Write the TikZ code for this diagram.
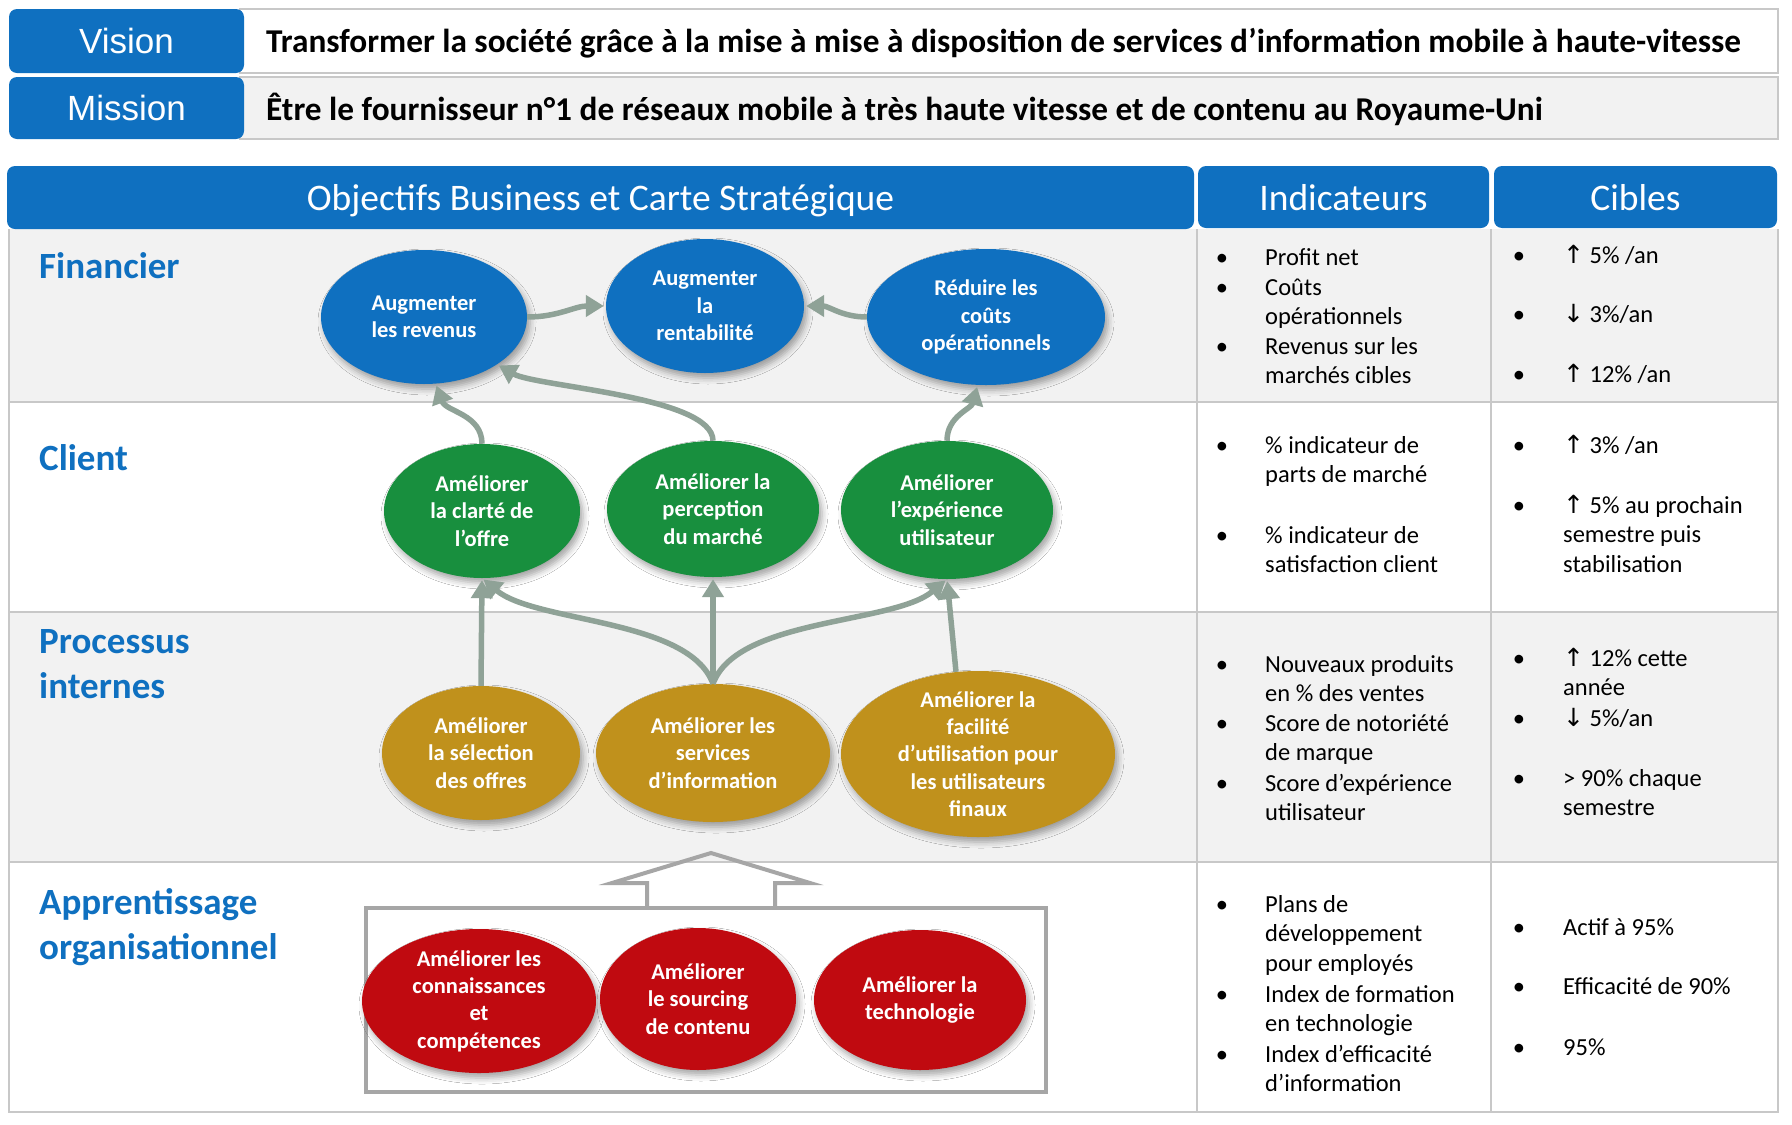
\documentclass[tikz,border=0pt]{standalone}
\usepackage{fontspec}
\setmainfont{Carlito}
\newfontfamily\arialfont{Liberation Sans}
\newfontfamily\arrowfont{DejaVu Sans}
\usetikzlibrary{arrows.meta,shapes.geometric,shadows.blur}
\definecolor{hblue}{RGB}{15,112,192}
\definecolor{egreen}{RGB}{24,143,62}
\definecolor{egold}{RGB}{192,145,28}
\definecolor{ered}{RGB}{192,10,16}
\definecolor{conncol}{RGB}{143,162,151}
\definecolor{rowgrey}{RGB}{242,242,242}
\definecolor{gridcol}{RGB}{200,200,200}
\definecolor{boxgrey}{RGB}{166,166,166}
\newcommand{\uparr}{{\arrowfont\fontsize{25}{25}\selectfont ↑}}
\newcommand{\downarr}{{\arrowfont\fontsize{25}{25}\selectfont ↓}}
\begin{document}
\begin{tikzpicture}[x=1pt,y=-1pt,
  hdr/.style={fill=hblue, rounded corners=8pt, inner sep=0pt, text=white},
  obj/.style={ellipse, inner xsep=0pt, inner ysep=-18pt, text=white, align=center,
     font=\bfseries\fontsize{22.5}{27.3}\selectfont,
     blur shadow={shadow xshift=3pt, shadow yshift=-5pt, shadow blur radius=6pt, shadow opacity=35}},
  fin/.style={obj, fill=hblue},
  cli/.style={obj, fill=egreen},
  proc/.style={obj, fill=egold},
  learn/.style={obj, fill=ered},
  link/.style={draw=conncol, line width=5.5pt, -{Triangle[length=18pt,width=21pt]}, shorten >=2pt},
  rowlbl/.style={anchor=base west, inner sep=0pt, align=left, text=hblue, font=\bfseries\fontsize{37}{45}\selectfont},
  itm/.style={anchor=base west, inner sep=0pt, align=left, font=\fontsize{24.5}{29.7}\selectfont},
  bul/.style={anchor=base, inner sep=0pt, font=\fontsize{24.5}{29.7}\selectfont},
  gridln/.style={draw=gridcol, line width=2pt},
]
\useasboundingbox (0,0) rectangle (1792,1125);
\fill[white] (0,0) rectangle (1792,1125);

% Vision / Mission
\draw[gridln, fill=white] (240,9) rectangle (1778,73);
\draw[gridln, fill=rowgrey] (240,77) rectangle (1778,139);
\node[hdr, minimum width=235pt, minimum height=64pt, font=\arialfont\fontsize{35}{35}\selectfont] (vis) at (126.5,41) {Vision};
\node[hdr, minimum width=235pt, minimum height=62pt, font=\arialfont\fontsize{35}{35}\selectfont] (mis) at (126.5,108) {Mission};
\node[anchor=base west, inner sep=0pt, font=\bfseries\fontsize{33.3}{36}\selectfont] (vistxt) at (266,52) {Transformer la société grâce à la mise à mise à disposition de services d’information mobile à haute-vitesse};
\node[anchor=base west, inner sep=0pt, font=\bfseries\fontsize{33.3}{36}\selectfont] (mistxt) at (266,120) {Être le fournisseur n°1 de réseaux mobile à très haute vitesse et de contenu au Royaume-Uni};

% table
\fill[rowgrey] (9,229) rectangle (1778,402);
\fill[rowgrey] (9,612) rectangle (1778,862);
\draw[gridln] (9,229) -- (9,1112) -- (1778,1112) -- (1778,229);
\draw[gridln] (9,402) -- (1778,402);
\draw[gridln] (9,612) -- (1778,612);
\draw[gridln] (9,862) -- (1778,862);
\draw[gridln] (1197,229) -- (1197,1112);
\draw[gridln] (1491,229) -- (1491,1112);

% headers
\node[hdr, minimum width=1187pt, minimum height=63pt, text depth=0pt, font=\fontsize{37.5}{37.5}\selectfont] (hobj) at (600.5,197.5) {Objectifs Business et Carte Stratégique};
\node[hdr, minimum width=291pt, minimum height=62pt, text depth=0pt, font=\fontsize{37.5}{37.5}\selectfont] (hind) at (1343.5,197) {Indicateurs};
\node[hdr, minimum width=283pt, minimum height=62pt, text depth=0pt, font=\fontsize{37.5}{37.5}\selectfont] (hcib) at (1635.5,197) {Cibles};

% row labels (base = baseline of last line)
\node[rowlbl] (lfin) at (39,278) {Financier};
\node[rowlbl] (lcli) at (39,470) {Client};
\node[rowlbl] (lproc) at (39,698) {Processus\\internes};
\node[rowlbl] (lapp) at (39,959) {Apprentissage\\organisationnel};

% indicators (base = baseline of last line)
\node[bul] (b1a) at (1222,265) {•}; \node[itm] (i1a) at (1265,265) {Profit net};
\node[bul] (b1b) at (1222,295) {•}; \node[itm] (i1b) at (1265,324.7) {Coûts\\opérationnels};
\node[bul] (b1c) at (1222,354) {•}; \node[itm] (i1c) at (1265,383.7) {Revenus sur les\\marchés cibles};
\node[bul] (b2a) at (1222,453) {•}; \node[itm] (i2a) at (1265,482.7) {\% indicateur de\\parts de marché};
\node[bul] (b2b) at (1222,543) {•}; \node[itm] (i2b) at (1265,572.7) {\% indicateur de\\satisfaction client};
\node[bul] (b3a) at (1222,672) {•}; \node[itm] (i3a) at (1265,701.7) {Nouveaux produits\\en \% des ventes};
\node[bul] (b3b) at (1222,731) {•}; \node[itm] (i3b) at (1265,760.7) {Score de notoriété\\de marque};
\node[bul] (b3c) at (1222,791) {•}; \node[itm] (i3c) at (1265,820.7) {Score d’expérience\\utilisateur};
\node[bul] (b4a) at (1222,912) {•}; \node[itm] (i4a) at (1265,971.4) {Plans de\\développement\\pour employés};
\node[bul] (b4b) at (1222,1002) {•}; \node[itm] (i4b) at (1265,1031.7) {Index de formation\\en technologie};
\node[bul] (b4c) at (1222,1062) {•}; \node[itm] (i4c) at (1265,1091.7) {Index d’efficacité\\d’information};

% targets
\node[bul] (d1a) at (1519,263) {•}; \node[itm] (c1a) at (1563,263) {\uparr\ 5\% /an};
\node[bul] (d1b) at (1519,322) {•}; \node[itm] (c1b) at (1563,322) {\downarr\ 3\%/an};
\node[bul] (d1c) at (1519,382) {•}; \node[itm] (c1c) at (1563,382) {\uparr\ 12\% /an};
\node[bul] (d2a) at (1519,453) {•}; \node[itm] (c2a) at (1563,453) {\uparr\ 3\% /an};
\node[bul] (d2b) at (1519,513) {•}; \node[itm] (c2b) at (1563,572.4) {\uparr\ 5\% au prochain\\semestre puis\\stabilisation};
\node[bul] (d3a) at (1519,666) {•}; \node[itm] (c3a) at (1563,695.7) {\uparr\ 12\% cette\\année};
\node[bul] (d3b) at (1519,726) {•}; \node[itm] (c3b) at (1563,726) {\downarr\ 5\%/an};
\node[bul] (d3c) at (1519,786) {•}; \node[itm] (c3c) at (1563,815.7) {> 90\% chaque\\semestre};
\node[bul] (d4a) at (1519,935) {•}; \node[itm] (c4a) at (1563,935) {Actif à 95\%};
\node[bul] (d4b) at (1519,994) {•}; \node[itm] (c4b) at (1563,994) {Efficacité de 90\%};
\node[bul] (d4c) at (1519,1055) {•}; \node[itm] (c4c) at (1563,1055) {95\%};

% learning box and house arrow
\node[draw=boxgrey, line width=4pt, minimum width=680pt, minimum height=184pt, inner sep=0pt] (lbox) at (706,1000) {};
\draw[draw=boxgrey, line width=4pt, line join=miter] (647,908) -- (647,883) -- (612,883) -- (711,853) -- (810,883) -- (775,883) -- (775,908);

% objectives
\node[fin, minimum width=206pt, minimum height=134pt] (rev) at (424,317) {Augmenter\\les revenus};
\node[fin, minimum width=198pt, minimum height=134pt] (rent) at (705,306) {Augmenter\\la\\rentabilité};
\node[fin, minimum width=238pt, minimum height=136pt] (red) at (986,317) {Réduire les\\coûts\\opérationnels};
\node[cli, minimum width=196pt, minimum height=134pt] (clar) at (482,511) {Améliorer\\la clarté de\\l’offre};
\node[cli, minimum width=212pt, minimum height=136pt] (perc) at (713,509) {Améliorer la\\perception\\du marché};
\node[cli, minimum width=212pt, minimum height=138pt] (exp) at (947,510) {Améliorer\\l’expérience\\utilisateur};
\node[proc, minimum width=198pt, minimum height=134pt] (sel) at (481,753) {Améliorer\\la sélection\\des offres};
\node[proc, minimum width=234pt, minimum height=138pt] (serv) at (713,753) {Améliorer les\\services\\d’information};
\node[proc, minimum width=274pt, minimum height=166pt] (fac) at (978,754) {Améliorer la\\facilité\\d’utilisation pour\\les utilisateurs\\finaux};
\node[learn, minimum width=234pt, minimum height=144pt] (conn) at (479,1001) {Améliorer les\\connaissances\\et\\compétences};
\node[learn, minimum width=196pt, minimum height=142pt] (sour) at (698,999) {Améliorer\\le sourcing\\de contenu};
\node[learn, minimum width=212pt, minimum height=140pt] (tech) at (920,1000) {Améliorer la\\technologie};

% connectors
\draw[link] (rev.east) to[out=0,in=180] (rent.west);
\draw[link] (red.west) to[out=180,in=0] (rent.east);
\draw[link] (clar.north) to[out=90,in=-70] (rev.-80);
\draw[link] (perc.north) to[out=90,in=-30,looseness=0.5] (rev.-33);
\draw[link] (exp.north) to[out=90,in=-105] (red.-97);
\draw[link] (sel.north) -- (clar.south);
\draw[link] (serv.north) to[out=110,in=-40,looseness=0.7] (clar.south);
\draw[link] (serv.north) -- (perc.south);
\draw[link] (serv.north) to[out=70,in=-140,looseness=0.7] (exp.south);
\draw[link] (fac.105) -- (exp.south);
\end{tikzpicture}
\end{document}
